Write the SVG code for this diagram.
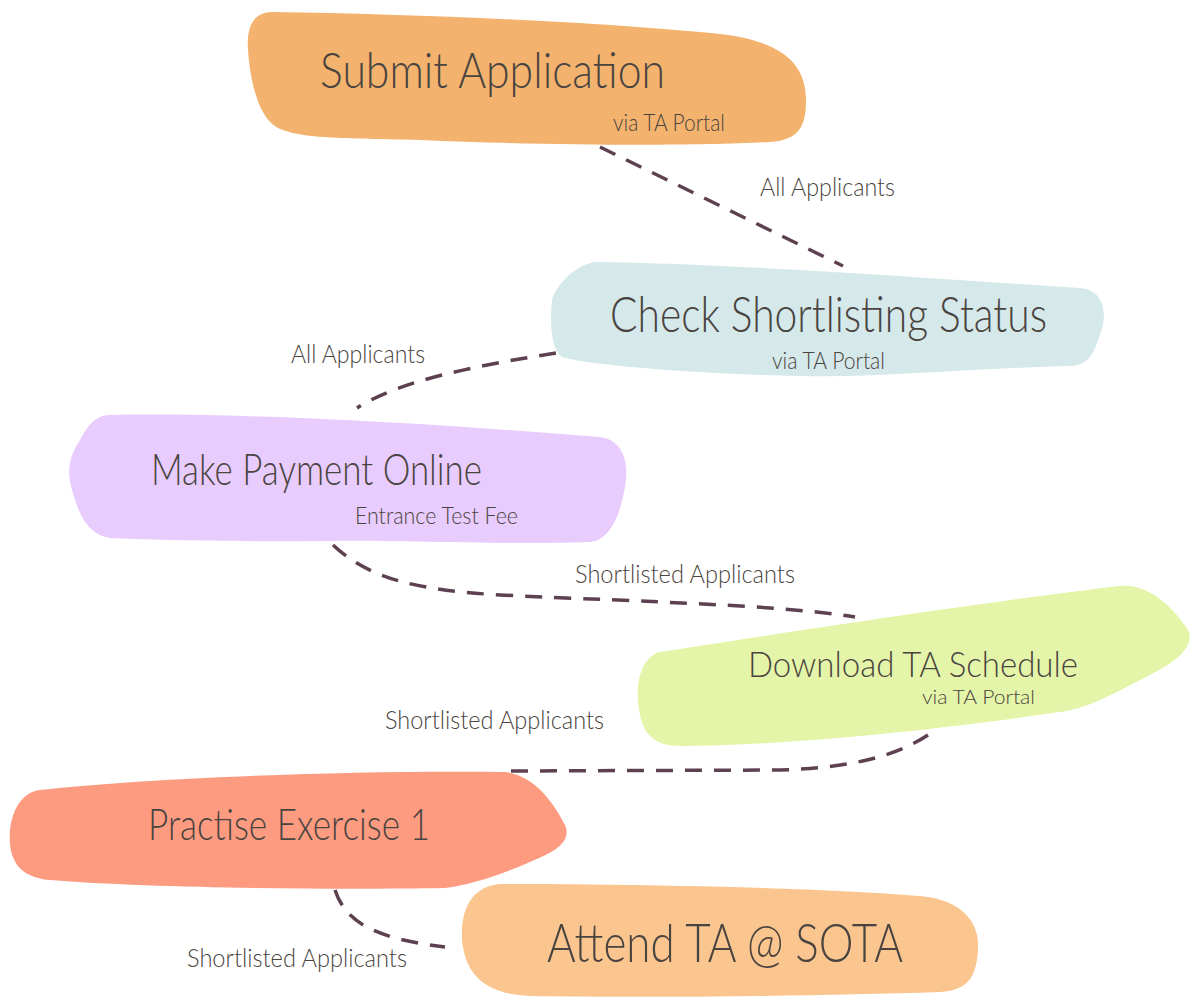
<svg xmlns="http://www.w3.org/2000/svg" width="1192" height="998" viewBox="0 0 1192 998">
<style>
.t{font-family:"Lato","Open Sans","Liberation Sans",sans-serif;fill:#4a4440;font-weight:300;}
.ti{font-size:50px;}
.sub{font-size:23px;}
.el{font-size:26px;}
.c{fill:none;stroke:#5e4150;stroke-width:3.5;stroke-dasharray:17 12;}
</style>
<rect width="1192" height="998" fill="#ffffff"/>
<g id="connectors">
<path class="c" d="M 600,147 L 843,266"/>
<path class="c" d="M 556,353 C 480,365 400,380 357,408"/>
<path class="c" d="M 333,545 C 370,580 420,590 500,595 C 650,602 780,605 855,617"/>
<path class="c" d="M 928,735 C 890,760 840,768 780,770 L 510,771"/>
<path class="c" d="M 335,890 C 345,920 370,938 445,947"/>
<text class="t el" x="760" y="196" textLength="135" lengthAdjust="spacingAndGlyphs">All Applicants</text>
<text class="t el" x="291" y="363" textLength="134" lengthAdjust="spacingAndGlyphs">All Applicants</text>
<text class="t el" x="575" y="583" textLength="220" lengthAdjust="spacingAndGlyphs">Shortlisted Applicants</text>
<text class="t el" x="385" y="729" textLength="219" lengthAdjust="spacingAndGlyphs">Shortlisted Applicants</text>
<text class="t el" x="187" y="967" textLength="220" lengthAdjust="spacingAndGlyphs">Shortlisted Applicants</text>
</g>
<g id="n1">
<path fill="#f3b36f" d="M 272,12 C 420,14 600,22 720,34 C 790,42 806,70 806,100 C 806,125 800,140 770,142 C 700,146 560,146 420,140 C 330,138 300,138 278,128 C 258,118 250,80 248,50 C 246,25 255,12 272,12 Z"/>
<text class="t ti" x="320" y="88" textLength="345" lengthAdjust="spacingAndGlyphs">Submit Application</text>
<text class="t sub" x="613" y="131" textLength="112" lengthAdjust="spacingAndGlyphs">via TA Portal</text>
</g>
<g id="n2">
<path fill="#d5e8ea" d="M 595,262 C 750,264 950,280 1080,288 C 1105,290 1108,315 1100,335 C 1094,352 1090,365 1070,366 C 980,368 880,378 800,376 C 700,374 600,366 565,358 C 550,354 550,320 552,300 C 556,285 575,265 595,262 Z"/>
<text class="t ti" x="610" y="332" font-size="48" textLength="437" lengthAdjust="spacingAndGlyphs">Check Shortlisting Status</text>
<text class="t sub" x="772" y="369" textLength="113" lengthAdjust="spacingAndGlyphs">via TA Portal</text>
</g>
<g id="n3">
<path fill="#e8ccfe" d="M 108,415 C 250,412 450,425 600,437 C 622,440 628,460 626,480 C 622,510 612,540 590,542 C 500,545 400,540 330,541 C 250,542 150,540 110,538 C 85,534 78,510 72,490 C 66,470 70,455 80,440 C 88,425 95,416 108,415 Z"/>
<text class="t" x="151" y="485" font-size="44" textLength="331" lengthAdjust="spacingAndGlyphs">Make Payment Online</text>
<text class="t sub" x="355" y="524" textLength="163" lengthAdjust="spacingAndGlyphs">Entrance Test Fee</text>
</g>
<g id="n4">
<path fill="#e4f5a9" d="M 660,652 C 800,630 1000,600 1120,586 C 1150,583 1175,610 1188,630 C 1195,645 1180,660 1150,675 C 1110,695 1090,708 1060,712 C 950,728 800,745 680,746 C 650,746 640,730 638,700 C 636,675 645,656 660,652 Z"/>
<text class="t" x="748" y="677" font-size="36" textLength="330" lengthAdjust="spacingAndGlyphs">Download TA Schedule</text>
<text class="t" x="922" y="704" font-size="20" textLength="113" lengthAdjust="spacingAndGlyphs">via TA Portal</text>
</g>
<g id="n5">
<path fill="#fd9b80" d="M 40,790 C 150,778 350,770 505,772 C 535,775 555,805 565,825 C 572,842 555,852 530,862 C 500,875 470,885 445,888 C 330,890 150,888 50,880 C 15,877 8,855 10,830 C 12,810 22,792 40,790 Z"/>
<text class="t" x="148" y="840" font-size="44" textLength="282" lengthAdjust="spacingAndGlyphs">Practise Exercise 1</text>
</g>
<g id="n6">
<path fill="#fac58e" d="M 500,884 C 650,884 820,888 920,896 C 965,900 980,925 978,950 C 976,975 970,990 940,992 C 820,996 650,998 530,996 C 480,994 465,970 462,940 C 460,905 475,886 500,884 Z"/>
<text class="t" x="547" y="962" font-size="54" textLength="356" lengthAdjust="spacingAndGlyphs">Attend TA @ SOTA</text>
</g>
</svg>
